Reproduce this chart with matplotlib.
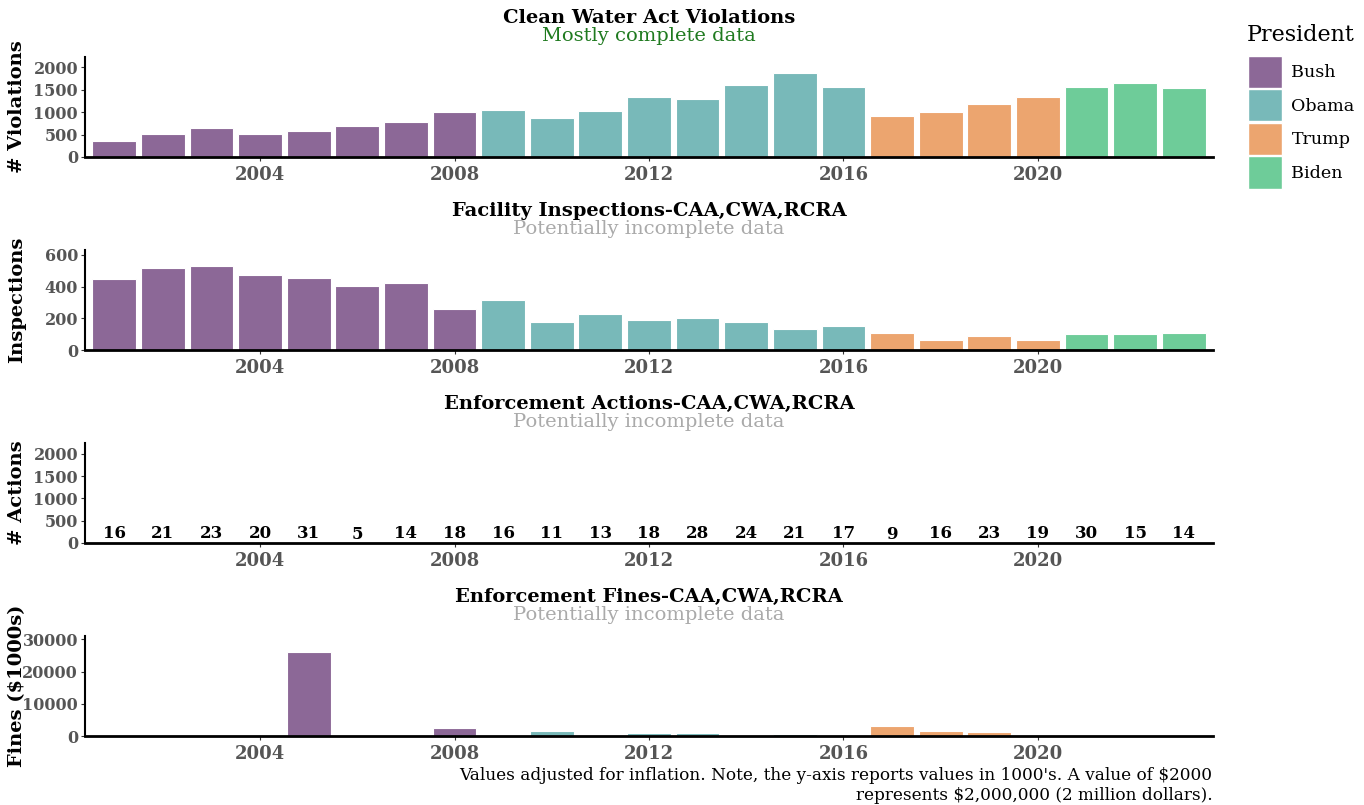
#!/usr/bin/env python
import numpy as np
import matplotlib
matplotlib.use('Agg')
import matplotlib.pyplot as plt
from matplotlib.patches import Patch

years = list(range(2001, 2024))
presidents = ['Bush'] * 8 + ['Obama'] * 8 + ['Trump'] * 4 + ['Biden'] * 3
pres_names = ['Bush', 'Obama', 'Trump', 'Biden']
pres_colors = {'Bush': '#8c6897', 'Obama': '#78b9b9', 'Trump': '#eca56f', 'Biden': '#6ecc99'}

violations = [355, 520, 650, 505, 585, 680, 780, 1005, 1040, 875, 1025, 1345, 1285,
              1595, 1875, 1550, 925, 1010, 1190, 1340, 1550, 1645, 1535]
inspections = [450, 516, 530, 475, 452, 405, 420, 261, 315, 174, 224, 192, 200,
               174, 134, 150, 105, 63, 88, 63, 100, 100, 105]
actions = [16, 21, 23, 20, 31, 5, 14, 18, 16, 11, 13, 18, 28, 24, 21, 17, 9, 16, 23, 19, 30, 15, 14]
fines = [0, 0, 0, 0, 26200, 0, 0, 2500, 0, 1400, 0, 1000, 1000,
         0, 700, 0, 3100, 1500, 1100, 0, 0, 0, 0]

titles = ['Clean Water Act Violations', 'Facility Inspections-CAA,CWA,RCRA',
          'Enforcement Actions-CAA,CWA,RCRA', 'Enforcement Fines-CAA,CWA,RCRA']
subtitles = ['Mostly complete data', 'Potentially incomplete data',
             'Potentially incomplete data', 'Potentially incomplete data']
sub_colors = ['#1f7a1f', '#aaaaaa', '#aaaaaa', '#aaaaaa']
ylabels = ['# Violations', 'Inspections', '# Actions', 'Fines ($1000s)']
ylims = [2230, 630, 2240, 31000]
yticks = [[0, 500, 1000, 1500, 2000], [0, 200, 400, 600],
          [0, 500, 1000, 1500, 2000], [0, 10000, 20000, 30000]]
series = [violations, inspections, actions, fines]

plt.rcParams['font.family'] = ['DejaVu Serif']

fig = plt.figure(figsize=(13.64, 8.05), dpi=100)
bottoms = [0.805, 0.5652, 0.3255, 0.0857]
colors = [pres_colors[p] for p in presidents]

for i in range(4):
    ax = fig.add_axes([0.0623, bottoms[i], 0.827, 0.1242])
    ax.bar(years, series[i], width=0.9, color=colors, edgecolor='white', linewidth=0.8)
    ax.set_xlim(2000.4, 2023.6)
    ax.set_ylim(0, ylims[i])
    ax.set_yticks(yticks[i])
    ax.set_xticks([2004, 2008, 2012, 2016, 2020])
    for s in ['top', 'right']:
        ax.spines[s].set_visible(False)
    ax.spines['left'].set_linewidth(1.5)
    ax.spines['bottom'].set_linewidth(2)
    ax.tick_params(colors='#555555', length=3)
    ax.tick_params(axis='x', labelsize=13)
    ax.tick_params(axis='y', labelsize=11.5, pad=2)
    ax.tick_params(axis='both', color='#333333')
    for lab in ax.get_xticklabels() + ax.get_yticklabels():
        lab.set_fontweight('bold')
    ax.set_ylabel(ylabels[i], fontsize=14, fontweight='bold')
    ax.yaxis.set_label_coords(-0.052, 0.5)
    ax.annotate(titles[i], (0.5, 1.0), xycoords='axes fraction', xytext=(0, 28),
                textcoords='offset points', ha='center', va='center',
                fontsize=14, fontweight='bold')
    ax.annotate(subtitles[i], (0.5, 1.0), xycoords='axes fraction', xytext=(0, 15),
                textcoords='offset points', ha='center', va='center',
                fontsize=14, color=sub_colors[i])
    if i == 2:
        for x, v in zip(years, actions):
            ax.text(x, v, str(v), ha='center', va='bottom',
                    fontsize=12, fontweight='bold')

fig.text(0.889, 0.0245, "Values adjusted for inflation. Note, the y-axis reports values in 1000's. A value of $2000\n"
         "represents $2,000,000 (2 million dollars).", ha='right', va='center', fontsize=12.2,
         linespacing=1.2)

fig.text(1247 / 1364, 1 - 35 / 805, 'President', ha='left', va='center', fontsize=16)
handles = [Patch(facecolor=pres_colors[p], edgecolor='white', label=p) for p in pres_names]
leg = fig.legend(handles=handles, loc='upper left',
                 bbox_to_anchor=(1246 / 1364, 1 - 54 / 805), frameon=False, fontsize=12.6,
                 handlelength=1.95, handleheight=2.45, borderaxespad=0,
                 labelspacing=0.08, handletextpad=0.55, borderpad=0.1)

fig.savefig('out.png', dpi=100)
